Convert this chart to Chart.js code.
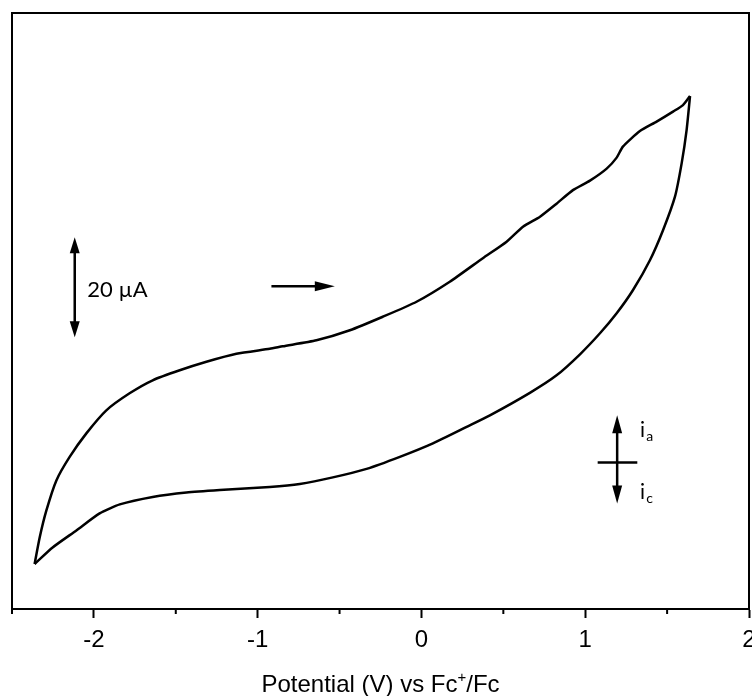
<!DOCTYPE html>
<html>
<head>
<meta charset="utf-8">
<script src="https://cdn.jsdelivr.net/npm/chart.js@4"></script>
<style>
html,body{margin:0;padding:0;background:#fff;}
#wrap{width:752px;height:696px;position:relative;}
</style>
</head>
<body>
<div id="wrap"><canvas id="c"></canvas></div>
<script>
// Forward (anodic) sweep: potential (V vs Fc+/Fc) and current (µA)
const forwardV = [-2.362,-2.331,-2.290,-2.229,-2.148,-2.046,-1.924,-1.782,-1.641,-1.476,-1.313,-1.130,-0.926,-0.847,-0.641,-0.437,-0.236,-0.030,0.173,0.375,0.520,0.620,0.724,0.825,0.925,1.029,1.131,1.192,1.230,1.334,1.436,1.536,1.597,1.640];
const forwardI = [-20.3,-15.0,-9.6,-3.6,1.1,5.8,10.4,13.8,16.4,18.4,20.1,21.7,22.7,23.2,24.4,26.4,29.1,32.1,36.1,40.8,44.1,47.1,49.1,51.7,54.4,56.3,58.7,60.9,63.1,66.2,68.1,70.1,71.4,73.2];
// Reverse (cathodic) sweep
const reverseV = [1.640,1.619,1.589,1.548,1.475,1.395,1.291,1.192,1.090,0.968,0.825,0.662,0.418,0.276,0.070,-0.132,-0.335,-0.541,-0.743,-0.926,-1.231,-1.435,-1.641,-1.842,-1.965,-2.107,-2.252,-2.362];
const reverseI = [73.2,66.4,59.8,53.1,46.4,40.4,34.4,29.8,25.8,21.6,17.4,13.9,9.4,7.1,3.8,1.1,-1.3,-3.0,-4.3,-4.9,-5.5,-6.0,-6.9,-8.4,-10.2,-13.6,-17.0,-20.3];

const xTickValues = [-2,-1,0,1,2];
const xMinorTicks = [-2.5,-1.5,-0.5,0.5,1.5];
const xRange = [-2.5, 2.0];
const yRange = [-29.3, 89.8];
const xAxisTitle = ['Potential (V) vs Fc', '+', '/Fc'];

// Annotations (data units)
const scaleBar = {v:-2.117, i0:25, i1:45, label:'20 µA', labelV:-2.04, labelI:34.4};
const sweepArrow = {v0:-0.916, v1:-0.529, i:35.2};
const signCross = {v:1.195, iTop:9.4, iBot:-8.2, h0:1.076, h1:1.318, labelV:1.335, aI:6.6, cI:-5.8};

function toPts(xs, ys){ return xs.map((x,k)=>({x:x, y:ys[k]})); }

function arrowHead(ctx, x, y, dx, dy, len, half){
  const L = Math.hypot(dx,dy); const ux=dx/L, uy=dy/L;
  ctx.beginPath();
  ctx.moveTo(x, y);
  ctx.lineTo(x-ux*len - uy*half, y-uy*len + ux*half);
  ctx.lineTo(x-ux*len + uy*half, y-uy*len - ux*half);
  ctx.closePath(); ctx.fill();
}

const decor = {
  id:'decor',
  afterDraw(chart){
    const ctx = chart.ctx, a = chart.chartArea;
    const xs = chart.scales.x, ys = chart.scales.y;
    ctx.save();
    ctx.strokeStyle = '#000'; ctx.fillStyle = '#000';
    // frame
    ctx.lineWidth = 2;
    ctx.strokeRect(a.left, a.top, a.right - a.left, a.bottom - a.top);
    // minor ticks
    ctx.lineWidth = 2;
    xMinorTicks.forEach(v=>{
      const px = xs.getPixelForValue(v);
      ctx.beginPath(); ctx.moveTo(px, a.bottom); ctx.lineTo(px, a.bottom+5); ctx.stroke();
    });
    // scale bar double arrow
    const sx = xs.getPixelForValue(scaleBar.v);
    const sy0 = ys.getPixelForValue(scaleBar.i0), sy1 = ys.getPixelForValue(scaleBar.i1);
    ctx.lineWidth = 2.5;
    ctx.beginPath(); ctx.moveTo(sx, sy1+10); ctx.lineTo(sx, sy0-10); ctx.stroke();
    arrowHead(ctx, sx, sy1, 0, -1, 16, 5);
    arrowHead(ctx, sx, sy0, 0, 1, 16, 5);
    ctx.font = '22px Lato, "Open Sans", sans-serif';
    ctx.textAlign = 'left'; ctx.textBaseline = 'middle';
    ctx.fillText(scaleBar.label, xs.getPixelForValue(scaleBar.labelV), ys.getPixelForValue(scaleBar.labelI));
    // sweep direction arrow
    const ax0 = xs.getPixelForValue(sweepArrow.v0), ax1 = xs.getPixelForValue(sweepArrow.v1);
    const ay = ys.getPixelForValue(sweepArrow.i);
    ctx.beginPath(); ctx.moveTo(ax0, ay); ctx.lineTo(ax1-10, ay); ctx.stroke();
    arrowHead(ctx, ax1, ay, 1, 0, 20, 5);
    // current sign cross
    const cx = xs.getPixelForValue(signCross.v);
    const cyT = ys.getPixelForValue(signCross.iTop), cyB = ys.getPixelForValue(signCross.iBot);
    const cy0 = ys.getPixelForValue(0);
    ctx.beginPath(); ctx.moveTo(cx, cyT+10); ctx.lineTo(cx, cyB-10); ctx.stroke();
    arrowHead(ctx, cx, cyT, 0, -1, 18, 5);
    arrowHead(ctx, cx, cyB, 0, 1, 18, 5);
    ctx.beginPath(); ctx.moveTo(xs.getPixelForValue(signCross.h0), cy0); ctx.lineTo(xs.getPixelForValue(signCross.h1), cy0); ctx.stroke();
    const lx = xs.getPixelForValue(signCross.labelV);
    ctx.textBaseline = 'alphabetic';
    ctx.font = '21px Lato, "Open Sans", sans-serif';
    const ia = ys.getPixelForValue(signCross.aI), ic = ys.getPixelForValue(signCross.cI);
    ctx.fillText('i', lx, ia+8);
    ctx.fillText('i', lx, ic+8);
    const iw = ctx.measureText('i').width;
    ctx.font = '14px Lato, "Open Sans", sans-serif';
    ctx.fillText('a', lx+iw+1, ia+12);
    ctx.fillText('c', lx+iw+1, ic+12);
    // x axis title with superscript
    ctx.font = '24px "Liberation Sans", Arial, sans-serif';
    const w1 = ctx.measureText(xAxisTitle[0]).width;
    const w3 = ctx.measureText(xAxisTitle[2]).width;
    ctx.font = '15px "Liberation Sans", Arial, sans-serif';
    const w2 = ctx.measureText(xAxisTitle[1]).width;
    const total = w1 + w2 + w3;
    let tx = (a.left + a.right)/2 - total/2;
    const ty = 692;
    ctx.textAlign = 'left';
    ctx.font = '24px "Liberation Sans", Arial, sans-serif';
    ctx.fillText(xAxisTitle[0], tx, ty);
    ctx.font = '15px "Liberation Sans", Arial, sans-serif';
    ctx.fillText(xAxisTitle[1], tx + w1, ty - 10);
    ctx.font = '24px "Liberation Sans", Arial, sans-serif';
    ctx.fillText(xAxisTitle[2], tx + w1 + w2, ty);
    ctx.restore();
  }
};

new Chart(document.getElementById('c'), {
  type: 'scatter',
  data: {
    datasets: [
      {label:'forward', data: toPts(forwardV, forwardI), showLine:true, borderColor:'#000', borderWidth:2.5, pointRadius:0, tension:0.2, fill:false},
      {label:'reverse', data: toPts(reverseV, reverseI), showLine:true, borderColor:'#000', borderWidth:2.5, pointRadius:0, tension:0.2, fill:false}
    ]
  },
  options: {
    responsive: true,
    maintainAspectRatio: false,
    animation: false,
    layout: {padding: {left: 12, right: 3, top: 13, bottom: 0}},
    plugins: {legend:{display:false}, tooltip:{enabled:false}},
    scales: {
      x: {
        type: 'linear', min: xRange[0], max: xRange[1],
        afterBuildTicks(scale){ scale.ticks = xTickValues.map(v=>({value:v})); },
        afterFit(scale){ scale.height = 87; scale.paddingLeft = 0; scale.paddingRight = 0; },
        border: {display: true, color:'#000', width: 2},
        grid: {drawOnChartArea: false, drawTicks: true, tickLength: 9, tickWidth: 2, tickColor:'#000', color:'#000'},
        ticks: {color:'#000', font:{family:'"Liberation Sans", Arial, sans-serif', size:24}, padding: 8, maxRotation:0, autoSkip:false,
          callback: v => String(v)}
      },
      y: {
        type: 'linear', min: yRange[0], max: yRange[1], display: false
      }
    }
  },
  plugins: [decor]
});
</script>
</body>
</html>
